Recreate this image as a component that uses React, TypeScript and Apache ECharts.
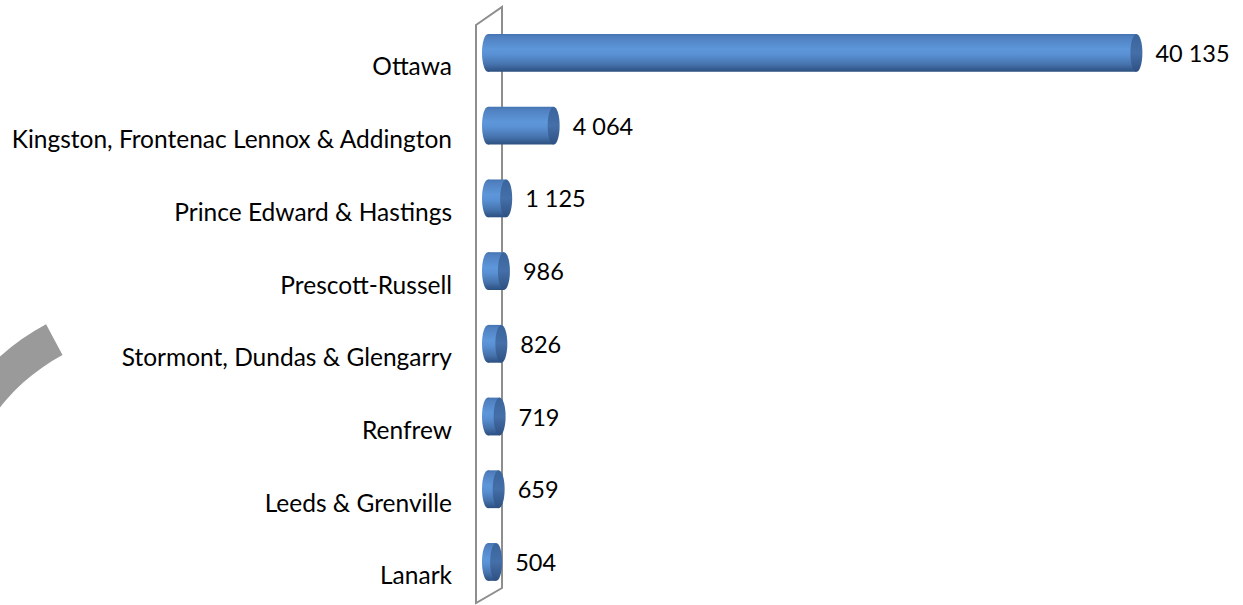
import React, { useEffect, useRef } from "react";
import * as echarts from "echarts";

const categories = [
  "Ottawa",
  "Kingston, Frontenac Lennox & Addington",
  "Prince Edward & Hastings",
  "Prescott-Russell",
  "Stormont, Dundas & Glengarry",
  "Renfrew",
  "Leeds & Grenville",
  "Lanark",
];
const values = [40135, 4064, 1125, 986, 826, 719, 659, 504];

const FONT = "Lato";

function fmt(v: number): string {
  return String(v).replace(/\B(?=(\d{3})+(?!\d))/g, " ");
}

export default function App() {
  const ref = useRef<HTMLDivElement>(null);
  useEffect(() => {
    document.body.style.margin = "0";
    const chart = echarts.init(ref.current!, null, { renderer: "svg" });
    const bodyGrad = () =>
      new echarts.graphic.LinearGradient(0, 0, 0, 1, [
        { offset: 0, color: "#4574b2" },
        { offset: 0.08, color: "#5080c0" },
        { offset: 0.4, color: "#5d97da" },
        { offset: 0.55, color: "#5990d3" },
        { offset: 0.8, color: "#4673ad" },
        { offset: 1, color: "#2c4f7f" },
      ]);
    const capGrad = () =>
      new echarts.graphic.LinearGradient(0, 0, 0, 1, [
        { offset: 0, color: "#3a649c" },
        { offset: 0.5, color: "#456fa8" },
        { offset: 1, color: "#2d5082" },
      ]);
    chart.setOption({
      animation: false,
      grid: { left: 488, right: 28, top: 16.6, bottom: 6.7, containLabel: false },
      xAxis: { type: "value", min: 0, max: 45000, show: false },
      yAxis: {
        type: "category",
        data: categories,
        inverse: true,
        axisLine: { show: false },
        axisTick: { show: false },
        splitLine: { show: false },
        axisLabel: {
          color: "#000",
          fontFamily: FONT,
          fontSize: 24.5,
          margin: 36,
          verticalAlign: "top",
          lineHeight: 26,
        },
      },
      graphic: [
        {
          type: "sector",
          silent: true,
          z: 0,
          shape: {
            cx: 155,
            cy: 529,
            r0: 197,
            r: 232,
            startAngle: (-230 * Math.PI) / 180,
            endAngle: (-118 * Math.PI) / 180,
            clockwise: true,
          },
          style: { fill: "#9a9a9a" },
        },
        {
          type: "polygon",
          silent: true,
          z: 0,
          shape: {
            points: [
              [476, 25],
              [502, 7],
              [502, 588],
              [476, 603],
            ],
          },
          style: { fill: "none", stroke: "#8e8e8e", lineWidth: 2 },
        },
      ],
      series: [
        {
          type: "custom",
          z: 5,
          data: values.map((v, i) => [v, i]),
          encode: { x: 0, y: 1 },
          renderItem: (params: any, api: any) => {
            const v = api.value(0);
            const c = api.value(1);
            const s = api.coord([0, c]);
            const e = api.coord([v, c]);
            const h = api.size([0, 1])[1] * 0.52;
            const rx = 6;
            const cy = s[1];
            return {
              type: "group",
              children: [
                {
                  type: "ellipse",
                  shape: { cx: s[0], cy, rx, ry: h / 2 },
                  style: { fill: bodyGrad() },
                },
                {
                  type: "rect",
                  shape: { x: s[0], y: cy - h / 2, width: e[0] - s[0], height: h },
                  style: { fill: bodyGrad() },
                },
                {
                  type: "ellipse",
                  shape: { cx: e[0], cy, rx, ry: h / 2 },
                  style: { fill: capGrad() },
                },
                {
                  type: "text",
                  style: {
                    text: fmt(v),
                    x: e[0] + rx + 13,
                    y: cy,
                    textAlign: "left",
                    textVerticalAlign: "middle",
                    fill: "#000",
                    fontFamily: FONT,
                    fontSize: 23.5,
                  },
                },
              ],
            };
          },
        },
      ],
    });
    return () => chart.dispose();
  }, []);
  return <div ref={ref} style={{ width: 1243, height: 605 }} />;
}
